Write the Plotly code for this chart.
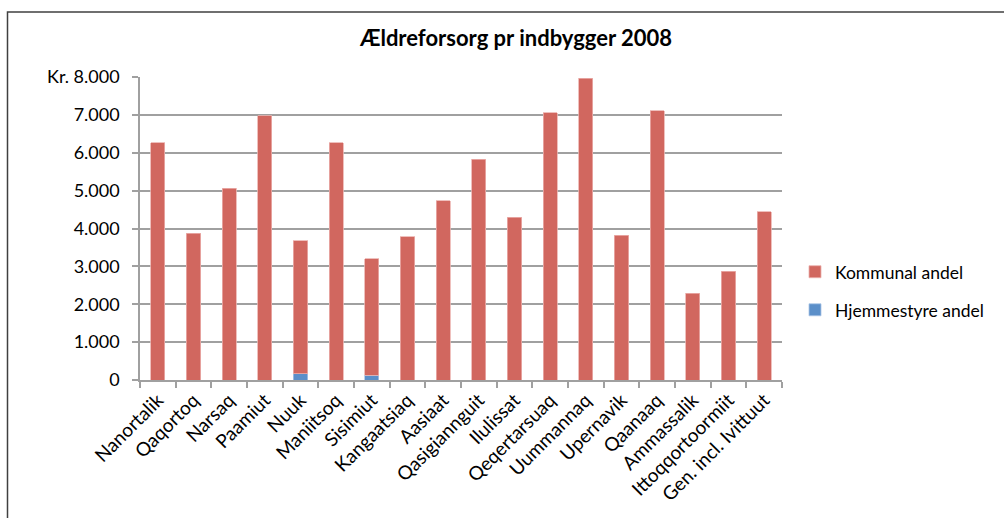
import plotly.graph_objects as go

categories = ["Nanortalik", "Qaqortoq", "Narsaq", "Paamiut", "Nuuk", "Maniitsoq",
              "Sisimiut", "Kangaatsiaq", "Aasiaat", "Qasigiannguit", "Ilulissat",
              "Qeqertarsuaq", "Uummannaq", "Upernavik", "Qaanaaq", "Ammassalik",
              "Ittoqqortoormiit", "Gen. incl. Ivittuut"]
hjemmestyre = [0, 0, 0, 0, 170, 0, 120, 0, 0, 0, 0, 0, 0, 0, 0, 0, 0, 0]
kommunal = [6260, 3870, 5060, 6980, 3505, 6260, 3075, 3780, 4730, 5825, 4300,
            7060, 7965, 3825, 7110, 2290, 2870, 4440]
tick_vals = [0, 1000, 2000, 3000, 4000, 5000, 6000, 7000, 8000]
tick_text = ["0", "1.000", "2.000", "3.000", "4.000", "5.000", "6.000", "7.000", "Kr. 8.000"]

RED = "#D1675F"
BLUE = "#5B8FC9"
FONT = "Lato"

fig = go.Figure()
fig.add_trace(go.Bar(x=categories, y=hjemmestyre, name="Hjemmestyre andel",
                     marker=dict(color=BLUE, line=dict(color="#A9C4E6", width=0.8)),
                     legend="legend2"))
fig.add_trace(go.Bar(x=categories, y=kommunal, name="Kommunal andel",
                     marker=dict(color=RED, line=dict(color="#EBB0AC", width=0.8)),
                     legend="legend"))

L, R, T, B = 140, 782, 77.4, 380
W, H = 1004, 518
pw, ph = R - L, B - T

def px2x(px):
    return (px - L) / pw

def px2y(py):
    return (B - py) / ph

fig.update_layout(
    width=W, height=H,
    margin=dict(l=L, r=W - R, t=T, b=H - B, pad=0, autoexpand=False),
    paper_bgcolor="white", plot_bgcolor="white",
    barmode="stack", bargap=0.6,
    font=dict(family=FONT, size=17, color="#000000"),
    title=dict(text="<b>Ældreforsorg pr indbygger 2008</b>",
               x=516 / W, xanchor="center", y=1 - 38 / H, yanchor="middle",
               font=dict(family=FONT, size=22, color="#000000")),
    xaxis=dict(type="category", showgrid=False, showline=True, linecolor="#A0A0A0",
               linewidth=1.5, ticks="outside", tickson="boundaries", ticklen=6,
               tickcolor="#A0A0A0", tickwidth=1.5, tickangle=-45,
               tickfont=dict(family=FONT, size=19, color="#000000")),
    yaxis=dict(range=[0, 8000], tickvals=tick_vals, ticktext=tick_text,
               showgrid=True, gridcolor="#A0A0A0", gridwidth=1.5,
               showline=True, linecolor="#A0A0A0", linewidth=1.5,
               ticks="outside", ticklen=6, tickcolor="#A0A0A0", tickwidth=1.5,
               ticklabelstandoff=9, zeroline=False,
               tickfont=dict(family=FONT, size=18, color="#000000")),
    legend=dict(x=px2x(795), y=px2y(272), xanchor="left", yanchor="middle",
                font=dict(family=FONT, size=17.5, color="#000000"),
                bgcolor="rgba(0,0,0,0)", itemwidth=30),
    legend2=dict(x=px2x(795), y=px2y(310), xanchor="left", yanchor="middle",
                 font=dict(family=FONT, size=17.5, color="#000000"),
                 bgcolor="rgba(0,0,0,0)", itemwidth=30),
    showlegend=True,
)

fig.add_shape(type="rect", xref="paper", yref="paper",
              x0=px2x(7.5), x1=px2x(1020), y0=px2y(540), y1=px2y(12.5),
              line=dict(color="#404040", width=1.5), fillcolor="rgba(0,0,0,0)",
              layer="below")

fig.write_html("out.html", config={"displayModeBar": False},
               post_script="document.body.style.margin='0px';document.body.style.overflow='hidden';")
